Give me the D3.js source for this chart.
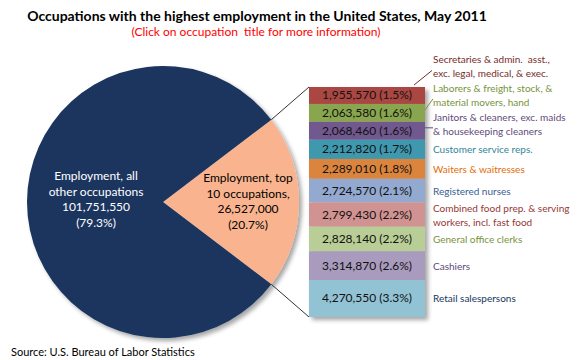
<!DOCTYPE html>
<html>
<head>
<meta charset="utf-8">
<script src="https://cdn.jsdelivr.net/npm/d3@7"></script>
<style>
  body { margin: 0; background: #fff; }
  svg text { font-family: Lato, "Open Sans", sans-serif; }
</style>
</head>
<body>
<div id="vis"></div>
<script>
// Chart data
const pieLabels = [['Employment, top', '10 occupations,'], ['Employment, all', 'other occupations']];
const pieValues = [26527000, 101751550];
const piePercents = ['20.7%', '79.3%'];

const occupations = [
    ['Secretaries & admin.  asst.,', 'exc. legal, medical, & exec.'],
    ['Laborers & freight, stock, &', 'material movers, hand'],
    ['Janitors & cleaners, exc. maids', '& housekeeping cleaners'],
    ['Customer service reps.'],
    ['Waiters & waitresses'],
    ['Registered nurses'],
    ['Combined food prep. & serving', 'workers, incl. fast food'],
    ['General office clerks'],
    ['Cashiers'],
    ['Retail salespersons']
];
const employment = [1955570, 2063580, 2068460, 2212820, 2289010, 2724570, 2799430, 2828140, 3314870, 4270550];
const shares = ['1.5%', '1.6%', '1.6%', '1.7%', '1.8%', '2.1%', '2.2%', '2.2%', '2.6%', '3.3%'];

const barColors = ['#aa4643', '#89a54e', '#71588f', '#4198af', '#db843d', '#93a9cf', '#d19392', '#b9cd96', '#a99bbd', '#92c3d5'];
const labelColors = ['#772c2a', '#77933c', '#5f497a', '#31859c', '#e46c0a', '#376092', '#953735', '#77933c', '#604a7b', '#17375e'];
const pieColors = ['#f9b48f', '#1a365e'];

const width = 580;
const height = 360;
const fmt = d3.format(',');

let svg = d3.select('#vis')
    .append('svg')
    .attr('width', width)
    .attr('height', height);

// drop shadow like the original
let filter = svg.append('defs').append('filter')
    .attr('id', 'shadow')
    .attr('x', '-10%').attr('y', '-10%')
    .attr('width', '130%').attr('height', '130%');
filter.append('feDropShadow')
    .attr('dx', 3).attr('dy', 3)
    .attr('stdDeviation', 2)
    .attr('flood-color', '#000')
    .attr('flood-opacity', 0.35);

// Titles
svg.append('text')
    .attr('x', 257).attr('y', 21)
    .attr('text-anchor', 'middle')
    .attr('font-size', '14px')
    .attr('font-weight', 'bold')
    .attr('fill', '#000')
    .text('Occupations with the highest employment in the United States, May 2011');

svg.append('text')
    .attr('x', 256).attr('y', 36)
    .attr('text-anchor', 'middle')
    .attr('font-size', '12px')
    .attr('fill', '#ff0000')
    .style('white-space', 'pre')
    .text('(Click on occupation  title for more information)');

// Pie
const cx = 163, cy = 202, r = 136;
const topShare = pieValues[0] / d3.sum(pieValues) * 2 * Math.PI;

let pie = d3.pie()
    .sort(null)
    .startAngle(Math.PI / 2 - topShare / 2)
    .endAngle(Math.PI / 2 - topShare / 2 + 2 * Math.PI);

let arc = d3.arc().innerRadius(0).outerRadius(r);
let pieData = pie(pieValues);

let pieG = svg.append('g')
    .attr('transform', `translate(${cx},${cy})`);

pieG.append('g')
    .attr('filter', 'url(#shadow)')
    .selectAll('path')
    .data(pieData)
    .join('path')
    .attr('d', arc)
    .attr('fill', (d, i) => pieColors[i]);

// Pie labels
const pieLabelLines = pieData.map((d, i) =>
    pieLabels[i].concat([fmt(pieValues[i]), '(' + piePercents[i] + ')']));
const pieLabelPos = [[85, -20], [-67, -22]];

pieG.selectAll('.pielabel')
    .data(pieLabelLines)
    .join('text')
    .attr('class', 'pielabel')
    .attr('text-anchor', 'middle')
    .attr('font-size', '12px')
    .attr('fill', (d, i) => i === 0 ? '#000' : '#fff')
    .attr('transform', (d, i) => `translate(${pieLabelPos[i][0]},${pieLabelPos[i][1]})`)
    .selectAll('tspan')
    .data(d => d)
    .join('tspan')
    .attr('x', 0)
    .attr('dy', (d, j) => j === 0 ? 0 : 15.5)
    .text(d => d);

// Stacked column
const barX = 309, barW = 116;
const total = d3.sum(employment);
let yScale = d3.scaleLinear()
    .domain([0, total])
    .range([87, 317]);

let cum = d3.cumsum(employment);
let segs = employment.map((v, i) => ({
    value: v,
    y0: cum[i] - v,
    y1: cum[i],
    i: i
}));

// connector lines from the pie slice to the column
const a0 = pieData[0].startAngle, a1 = pieData[0].endAngle;
let connectors = [
    [cx + r * Math.sin(a0), cy - r * Math.cos(a0), barX, yScale(0)],
    [cx + r * Math.sin(a1), cy - r * Math.cos(a1), barX, yScale(total)]
];
svg.selectAll('.connector')
    .data(connectors)
    .join('line')
    .attr('class', 'connector')
    .attr('x1', d => d[0]).attr('y1', d => d[1])
    .attr('x2', d => d[2]).attr('y2', d => d[3])
    .attr('stroke', '#333')
    .attr('stroke-width', 1);

let barG = svg.append('g');
barG.append('g')
    .attr('filter', 'url(#shadow)')
    .selectAll('rect')
    .data(segs)
    .join('rect')
    .attr('x', barX)
    .attr('width', barW)
    .attr('y', d => yScale(d.y0))
    .attr('height', d => yScale(d.y1) - yScale(d.y0))
    .attr('fill', d => barColors[d.i]);

barG.selectAll('.vlabel')
    .data(segs)
    .join('text')
    .attr('class', 'vlabel')
    .attr('x', barX + barW / 2)
    .attr('y', d => (yScale(d.y0) + yScale(d.y1)) / 2 + 4)
    .attr('text-anchor', 'middle')
    .attr('font-size', '12px')
    .attr('fill', '#111')
    .text(d => fmt(d.value) + ' (' + shares[d.i] + ')');

// Occupation labels, top three lifted to make room
const labelShift = [-29, -18, -7, 0, 0, 0, 0, 0, 0, 0];
const labelX = 433;
let occG = svg.selectAll('.occ')
    .data(segs)
    .join('text')
    .attr('class', 'occ')
    .attr('font-size', '10px')
    .style('white-space', 'pre')
    .attr('fill', d => labelColors[d.i])
    .attr('transform', d => {
        let mid = (yScale(d.y0) + yScale(d.y1)) / 2 + labelShift[d.i];
        let n = occupations[d.i].length;
        return `translate(${labelX},${mid + 4 - (n - 1) * 7})`;
    });
occG.selectAll('tspan')
    .data(d => occupations[d.i])
    .join('tspan')
    .attr('x', 0)
    .attr('dy', (d, j) => j === 0 ? 0 : 14)
    .text(d => d);

// leader lines for the lifted labels
let leaders = segs.filter(d => labelShift[d.i] !== 0).map(d => {
    let mid = (yScale(d.y0) + yScale(d.y1)) / 2;
    return d.i === 0
        ? [414, yScale(d.y0) - 2, 432, mid + labelShift[d.i] + 4]
        : [425, mid - 3, 433, mid + labelShift[d.i] + 4];
});
svg.selectAll('.leader')
    .data(leaders)
    .join('line')
    .attr('class', 'leader')
    .attr('x1', d => d[0]).attr('y1', d => d[1])
    .attr('x2', d => d[2]).attr('y2', d => d[3])
    .attr('stroke', (d, i) => labelColors[i])
    .attr('stroke-width', 1);

// Source
svg.append('text')
    .attr('x', 11).attr('y', 356)
    .attr('font-size', '11px')
    .attr('fill', '#000')
    .text('Source: U.S. Bureau of Labor Statistics');
</script>
</body>
</html>
